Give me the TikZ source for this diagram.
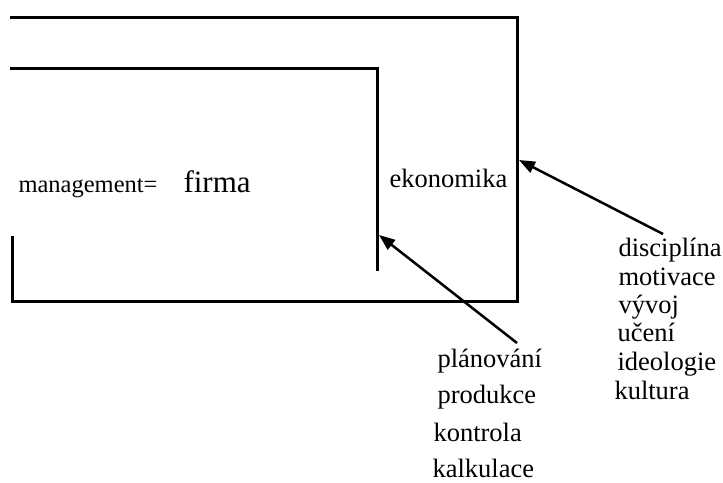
\documentclass[tikz,border=0pt]{standalone}
\usepackage{fontspec}
\setmainfont{Liberation Serif}
\usetikzlibrary{arrows.meta}

\begin{document}
\begin{tikzpicture}[x=1pt,y=-1pt,line width=3pt,
	lbl/.style={anchor=base west,inner sep=0pt,font=\fontsize{26.5}{30}\selectfont},
	arr/.style={line width=2.5pt,-{Triangle[length=16pt,width=12pt]}}]
			\useasboundingbox (0,0) rectangle (723,482);
			\draw  (10,17)-- (517,17)-- (517,301)-- (12,301)-- (12,236);
			\draw  (10,68)-- (377,68)-- (377,271);
			\node [anchor=base west,inner sep=0pt,font=\fontsize{24.5}{28}\selectfont] (man) at (17,192) {management=};
			\node [anchor=base west,inner sep=0pt,font=\fontsize{31}{36}\selectfont] (firma) at (182,192) {firma};
			\node [lbl] (eko) at (388,187) {ekonomika};
			\node [lbl] (plan) at (436,367) {plánování};
			\node [lbl] (prod) at (436,403) {produkce};
			\node [lbl] (kont) at (432,441) {kontrola};
			\node [lbl] (kalk) at (431,477) {kalkulace};
			\node [lbl] (disc) at (617,256) {disciplína};
			\node [lbl] (moti) at (617,285) {motivace};
			\node [lbl] (vyvo) at (617,313) {vývoj};
			\node [lbl] (uceni) at (616,341) {učení};
			\node [lbl] (ideo) at (616,370) {ideologie};
			\node [lbl] (kult) at (613,399) {kultura};
			\coordinate (planTail) at (517,343);
			\coordinate (planTip) at (379,235);
			\coordinate (discTail) at (663,234);
			\coordinate (discTip) at (519,160);
			\draw [arr] (planTail)-- (planTip);
			\draw [arr] (discTail)-- (discTip);
		\end{tikzpicture}
\end{document}
